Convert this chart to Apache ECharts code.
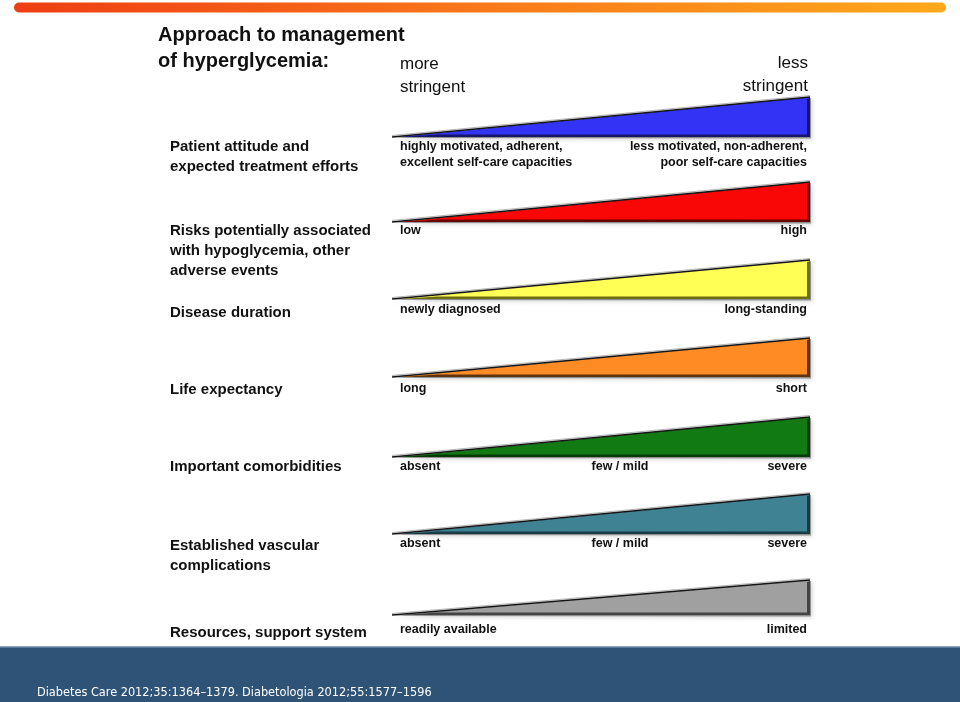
<!DOCTYPE html>
<html><head><meta charset="utf-8">
<script src="https://cdn.jsdelivr.net/npm/echarts@6/dist/echarts.min.js"></script>
<style>html,body{margin:0;padding:0;background:#fff}#c{width:960px;height:702px}</style>
</head><body><div id="c"></div>
<script>
// ---------- data ----------
const titleLines = ['Approach to management', 'of hyperglycemia:'];
const scaleStartLabel = 'more\nstringent';
const scaleEndLabel = 'less\nstringent';
const rows = [
  'Patient attitude and\nexpected treatment efforts',
  'Risks potentially associated\nwith hypoglycemia, other\nadverse events',
  'Disease duration',
  'Life expectancy',
  'Important comorbidities',
  'Established vascular\ncomplications',
  'Resources, support system'
];
const leftEnds = [
  'highly motivated, adherent,\nexcellent self-care capacities',
  'low', 'newly diagnosed', 'long', 'absent', 'absent', 'readily available'
];
const midEnds = ['', '', '', '', 'few / mild', 'few / mild', ''];
const rightEnds = [
  'less motivated, non-adherent,\npoor self-care capacities',
  'high', 'long-standing', 'short', 'severe', 'severe', 'limited'
];
const wedgeFrom = [0, 0, 0, 0, 0, 0, 0];   // stringency at left tip
const wedgeTo   = [1, 1, 1, 1, 1, 1, 1];   // stringency at right end
const midPoint = 0.54;
const footnote = 'Diabetes Care 2012;35:1364\u20131379. Diabetologia 2012;55:1577\u20131596';

// ---------- style / layout ----------
const fills = ['#3333f6', '#f90606', '#ffff55', '#ff8b24', '#127a12', '#3f8294', '#a0a0a0'];
const darks = ['#15156a', '#6a0202', '#6d6d12', '#5c3410', '#053905', '#193b46', '#444444'];
const rowNudge = [0, 5.3, 2.7, 1, 1.3, -1.3, 0];
const wedgeH = [40, 40, 39, 39, 40, 40, 35];
const rowLabelOff = [10, 9, 14, 13, 10, 12, 18];
const endLabelOff = [10, 9, 11, 12, 10, 10, 15];
const FONT = '"Liberation Sans", Arial, sans-serif';

const data = rows.map((r, i) => [i, wedgeFrom[i], wedgeTo[i]]);

function renderItem(params, api) {
  const i = api.value(0);
  const p0 = api.coord([api.value(1), i]);
  const p1 = api.coord([api.value(2), i]);
  const pm = api.coord([midPoint, i]);
  const base = p0[1] + rowNudge[i];
  const H = wedgeH[i];
  const x0 = p0[0], x1 = p1[0];
  const children = [];
  // soft shadow
  children.push({type: 'polygon', shape: {points: [[x0 - 4, base + 1], [x1 + 1, base - H + 1], [x1 + 1, base + 1.5]]},
    style: {fill: 'rgba(0,0,0,0.35)', shadowBlur: 4, shadowColor: 'rgba(0,0,0,0.5)', shadowOffsetX: 1, shadowOffsetY: 1}});
  // body
  children.push({type: 'polygon', shape: {points: [[x0, base], [x1, base - H], [x1, base]]},
    style: {fill: fills[i]}});
  // bevel bottom + right
  children.push({type: 'polygon', shape: {points: [[x0 + 4, base], [x1, base], [x1, base - H + 1], [x1 - 3, base - H + 2], [x1 - 3, base - 2.5], [x0 + 40, base - 2.5]]},
    style: {fill: darks[i]}});
  // top edge
  children.push({type: 'line', shape: {x1: x0 - 5, y1: base, x2: x1, y2: base - H},
    style: {stroke: 'rgba(150,150,150,0.7)', lineWidth: 1}, y: -1.5});
  children.push({type: 'line', shape: {x1: x0 - 5, y1: base, x2: x1, y2: base - H},
    style: {stroke: '#151515', lineWidth: 1.6}});
  // row label
  children.push({type: 'text', x: 170, y: base + rowLabelOff[i] - 10,
    style: {text: rows[i], font: 'bold 15px ' + FONT, fill: '#111', align: 'left', verticalAlign: 'top', lineHeight: 20}});
  const ey = base + endLabelOff[i] - 8;
  children.push({type: 'text', x: x0 + 3, y: ey,
    style: {text: leftEnds[i], font: 'bold 12.5px ' + FONT, fill: '#111', align: 'left', verticalAlign: 'top', lineHeight: 16}});
  children.push({type: 'text', x: x1 - 3, y: ey,
    style: {text: rightEnds[i], font: 'bold 12.5px ' + FONT, fill: '#111', align: 'right', verticalAlign: 'top', lineHeight: 16}});
  if (midEnds[i]) {
    children.push({type: 'text', x: pm[0], y: ey,
      style: {text: midEnds[i], font: 'bold 12.5px ' + FONT, fill: '#111', align: 'center', verticalAlign: 'top', lineHeight: 16}});
  }
  return {type: 'group', children};
}

const chart = echarts.init(document.getElementById('c'), null, {renderer: 'canvas'});
chart.setOption({
  animation: false,
  backgroundColor: '#fff',
  grid: {left: 397, right: 150, top: 137, bottom: 87},
  xAxis: {type: 'value', min: 0, max: 1, show: false},
  yAxis: {type: 'category', data: rows, inverse: true, boundaryGap: false, show: false},
  graphic: [
    {type: 'rect', shape: {x: 14, y: 2.5, width: 932, height: 10, r: 5},
      style: {fill: new echarts.graphic.LinearGradient(0, 0, 1, 0, [
        {offset: 0, color: '#ee3d12'}, {offset: 0.5, color: '#f9781a'}, {offset: 1, color: '#ffa81c'}])}},
    {type: 'rect', shape: {x: 0, y: 647, width: 960, height: 55}, style: {fill: '#2e5377'}},
    {type: 'rect', shape: {x: 0, y: 646, width: 960, height: 1.5}, style: {fill: '#8aa2bb'}},
    {type: 'text', x: 37, y: 693, style: {text: footnote, font: '12.6px "Liberation Sans Narrow", "DejaVu Sans Condensed", sans-serif',
      fill: '#fff', align: 'left', verticalAlign: 'middle'}},
    {type: 'text', x: 158, y: 22, style: {text: titleLines.join('\n'), font: 'bold 20px ' + FONT, fill: '#111',
      align: 'left', verticalAlign: 'top', lineHeight: 26}},
    {type: 'text', x: 400, y: 53, style: {text: scaleStartLabel, font: '17px ' + FONT, fill: '#111',
      align: 'left', verticalAlign: 'top', lineHeight: 23}},
    {type: 'text', x: 808, y: 52, style: {text: scaleEndLabel, font: '17px ' + FONT, fill: '#111',
      align: 'right', verticalAlign: 'top', lineHeight: 23}}
  ],
  series: [{type: 'custom', renderItem, data, encode: {x: [1, 2], y: 0}, clip: false}]
});
</script></body></html>
